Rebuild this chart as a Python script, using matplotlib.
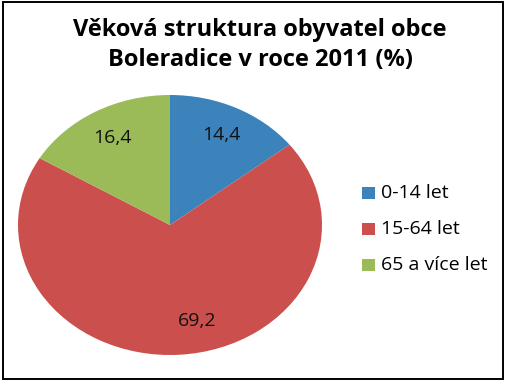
import matplotlib
matplotlib.use("Agg")
import matplotlib.pyplot as plt
from matplotlib.patches import Rectangle
from matplotlib.transforms import offset_copy

categories = ["0-14 let", "15-64 let", "65 a více let"]
values = [14.4, 69.2, 16.4]
colors = ["#3D83BB", "#CB4F4C", "#9BBB59"]
title = "Věková struktura obyvatel obce\nBoleradice v roce 2011 (%)"

W, H = 509, 384
fig = plt.figure(figsize=(W / 100, H / 100), dpi=100)
plt.rcParams['font.family'] = ['Open Sans', 'DejaVu Sans']

# outer border
fig.patches.append(Rectangle((3 / W, 1 - 379 / H), 500 / W, 377 / H,
                             transform=fig.transFigure, fill=False,
                             edgecolor='black', linewidth=1.4))

ax = fig.add_axes([18 / W, 1 - 355 / H, 304 / W, 260 / H])
labels = [f"{v:.1f}".replace('.', ',') for v in values]
wedges, texts = ax.pie(values, colors=colors, startangle=90, counterclock=False,
                       labels=labels, labeldistance=0.77,
                       wedgeprops=dict(linewidth=0),
                       textprops=dict(fontsize=14, color='#111111',
                                      ha='center', va='center'))
# Excel nudges the large-slice label to the right
texts[1].set_transform(offset_copy(texts[1].get_transform(), fig=fig,
                                   x=20, y=4, units='dots'))
ax.set_aspect('auto')
ax.set_xlim(-1, 1)
ax.set_ylim(-1, 1)

fig.text(260 / W, 1 - 45 / H, title, ha='center', va='center',
         fontsize=17, fontweight='bold', linespacing=1.3)

leg_y = [193, 229, 265]
for c, name, y in zip(colors, categories, leg_y):
    fig.patches.append(Rectangle((362 / W, 1 - (y + 6) / H), 13 / W, 12 / H,
                                 transform=fig.transFigure, facecolor=c,
                                 edgecolor='none'))
    fig.text(381 / W, 1 - y / H, name, ha='left', va='center', fontsize=14)

fig.savefig("out.png", dpi=100)
